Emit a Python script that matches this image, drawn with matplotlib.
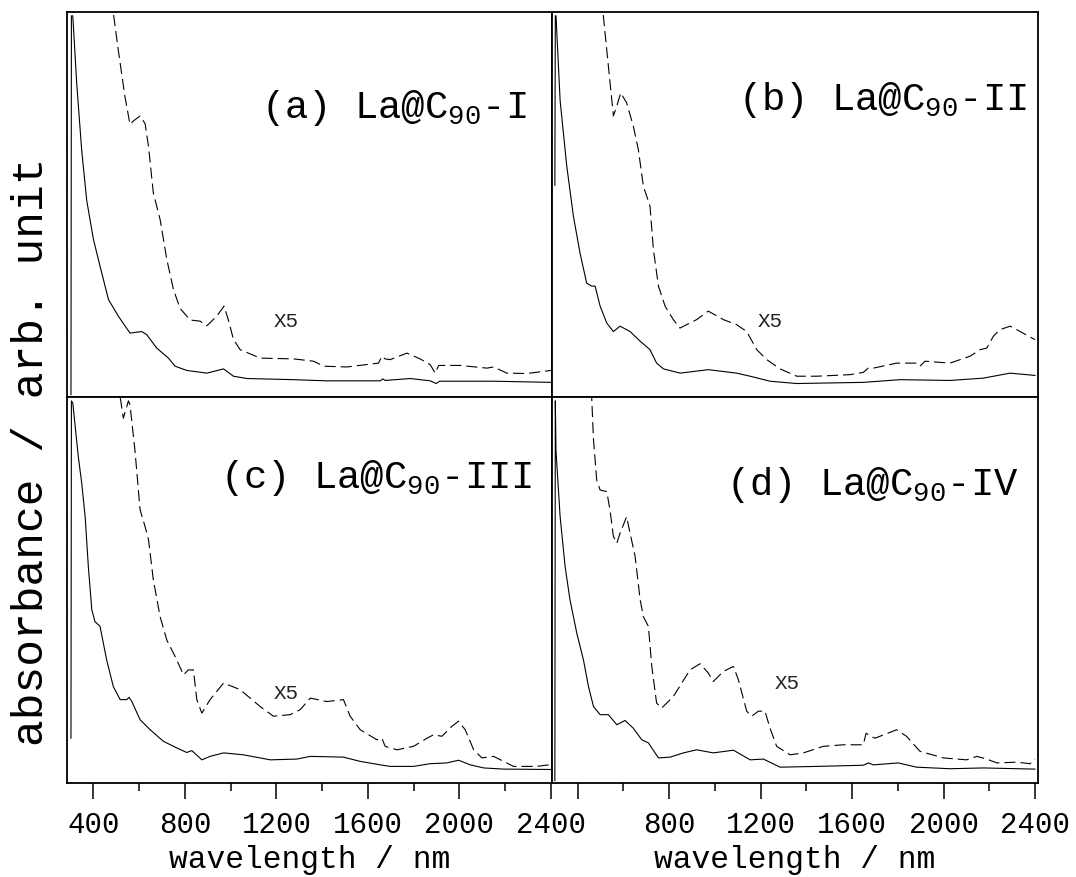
import matplotlib
matplotlib.use("Agg")
import matplotlib.pyplot as plt
from matplotlib.ticker import FixedLocator, NullFormatter, FixedFormatter

plt.rcParams['font.family'] = ['Liberation Mono', 'DejaVu Sans Mono']
plt.rcParams['mathtext.fontset'] = 'custom'
plt.rcParams['mathtext.rm'] = 'Liberation Mono'
plt.rcParams['mathtext.it'] = 'Liberation Mono'
plt.rcParams['mathtext.bf'] = 'Liberation Mono'

# ---------------- data (absorbance, arbitrary units, 0-100 per panel) ----------------
labels = [r"(a) La@C$_{90}$-I", r"(b) La@C$_{90}$-II",
          r"(c) La@C$_{90}$-III", r"(d) La@C$_{90}$-IV"]
scale_label = "X5"

wl_a_solid = [302, 304, 310, 327, 349, 371, 400, 429, 466, 509, 560, 611, 633, 677, 728, 757, 808, 896,
              969, 1012, 1071, 1275, 1420, 1654, 1665, 1675, 1785, 1872, 1898, 1913, 2149, 2400]
ab_a_solid = [0.6, 99, 99, 81.6, 64, 51, 41, 34, 25.3, 21, 16.6, 17, 16.2, 12.7, 10.1, 8.0, 6.9, 6.2,
              7.3, 5.4, 4.8, 4.5, 4.2, 4.2, 4.7, 4.3, 4.8, 4.2, 3.5, 4.1, 4.1, 3.8]
wl_a_dash = [480, 487, 509, 538, 560, 575, 604, 626, 641, 662, 692, 721, 750, 779, 823, 866, 896, 939,
             971, 990, 1012, 1041, 1129, 1275, 1362, 1406, 1508, 1646, 1661, 1675, 1697, 1770, 1828,
             1872, 1894, 1909, 2003, 2120, 2149, 2207, 2295, 2400]
ab_a_dash = [106, 99.8, 90, 78, 70.8, 71.7, 73, 71, 65, 53, 46, 35.7, 27.9, 23, 20, 19.7, 18.5, 21,
             23.6, 20, 15, 12.3, 10.1, 9.9, 9.3, 8.0, 7.8, 8.8, 10.6, 9.9, 9.7, 11.4, 9.9,
             8.4, 6.2, 8.2, 8.2, 7.5, 7.8, 6.2, 6.1, 6.9]

wl_b_solid = [300, 302, 305, 323, 352, 381, 410, 439, 461, 476, 498, 527, 556, 585, 629, 673, 716, 745,
              775, 848, 971, 1095, 1154, 1241, 1358, 1649, 1810, 2028, 2174, 2291, 2400]
ab_b_solid = [55, 99, 99, 77, 60, 47, 37.4, 29.6, 28.8, 28.8, 23.6, 19.2, 17, 18.4, 17, 14.5, 12.3, 8.8,
              7.3, 6.2, 7.1, 6.2, 5.4, 4.1, 3.5, 3.8, 4.5, 4.3, 4.9, 6.2, 5.6]
wl_b_dash = [505, 512, 534, 556, 571, 588, 614, 643, 665, 687, 716, 731, 753, 782, 818, 847, 920, 971,
             1037, 1095, 1139, 1183, 1227, 1285, 1358, 1445, 1591, 1649, 1671, 1693, 1795, 1882, 1897,
             1919, 2028, 2116, 2160, 2189, 2218, 2247, 2291, 2335, 2400]
ab_b_dash = [106, 99, 86, 73, 75.6, 79, 76.4, 70.4, 64.3, 54.8, 49.6, 38.3, 28.8, 23.6, 20.1, 17.9, 20.1, 22.3,
             20.1, 18.8, 17, 12.3, 9.7, 7.3, 5.4, 5.4, 5.8, 6.4, 7.5, 7.5, 8.8, 8.8, 8.0,
             9.3, 8.8, 10.6, 12.3, 12.7, 15.8, 17.5, 18.4, 17, 14.9]

wl_c_solid = [302, 304, 310, 334, 349, 364, 378, 393, 407, 429, 458, 487, 517, 546, 556, 568, 604, 648,
              706, 764, 808, 830, 874, 910, 969, 1056, 1173, 1289, 1348, 1493, 1566, 1654, 1697, 1799,
              1872, 1945, 1996, 2047, 2106, 2193, 2400]
ab_c_solid = [11.6, 99, 98.4, 84.6, 77.7, 69, 56, 44.9, 41.8, 40.6, 31.9, 25, 21.6, 21.6, 22.2, 21.1, 16.4, 13.8,
              10.8, 9.1, 7.9, 8.4, 6.0, 6.9, 7.8, 7.3, 6.0, 6.2, 6.9, 6.7, 5.6, 4.7, 4.3, 4.3,
              5.0, 5.2, 5.9, 4.7, 3.9, 3.6, 3.5]
wl_c_dash = [512, 517, 531, 546, 553, 560, 582, 604, 626, 641, 662, 692, 721, 757, 794, 815, 837, 852,
             874, 910, 969, 1041, 1129, 1187, 1260, 1304, 1348, 1420, 1493, 1522, 1566, 1639, 1661,
             1675, 1727, 1799, 1858, 1887, 1923, 1967, 1996, 2025, 2062, 2098, 2149, 2193, 2236,
             2338, 2389, 2400]
ab_c_dash = [104, 100, 94.5, 97.5, 99, 98, 86, 70.8, 66.4, 63, 52.6, 43, 37, 32.8, 28, 29.3, 29.3, 21.6,
             18.1, 21.6, 25.9, 24.2, 19.8, 17.3, 17.7, 19, 22, 21.1, 21.6, 17.3, 13.8, 11.2, 11.6,
             9.5, 8.6, 9.5, 11.6, 12.5, 12.1, 14.7, 16, 13.8, 8.6, 6.5, 6.9, 5.6, 4.3,
             4.3, 4.7, 5.6]

wl_d_solid = [300, 302, 305, 323, 345, 366, 396, 425, 447, 469, 498, 534, 571, 607, 643, 680, 709, 753,
              804, 862, 920, 993, 1081, 1154, 1212, 1285, 1445, 1649, 1671, 1693, 1802, 1882, 2028,
              2174, 2400]
ab_d_solid = [0.6, 99, 86, 69, 56, 47.5, 38.8, 31.9, 25, 19.8, 17.7, 17.7, 15.1, 16.2, 14.2, 11.2, 10.4, 6.5,
              6.7, 7.8, 8.6, 7.8, 8.5, 6.0, 6.2, 4.1, 4.3, 4.6, 5.2, 4.7, 5.2, 4.1, 3.7,
              3.9, 3.6]
wl_d_dash = [455, 461, 469, 483, 498, 527, 541, 556, 571, 585, 614, 629, 651, 673, 687, 709, 724, 745,
             767, 818, 891, 935, 971, 993, 1037, 1081, 1103, 1139, 1161, 1190, 1219, 1241, 1270,
             1329, 1387, 1474, 1562, 1649, 1661, 1678, 1700, 1795, 1838, 1897, 1999, 2101, 2145,
             2189, 2233, 2320, 2378, 2400]
ab_d_dash = [106, 100, 88.9, 78.5, 75.9, 75.5, 70.8, 63.9, 62.1, 64.7, 69, 64.7, 58.7, 47.5, 43.1, 40.6, 30.2, 20.7,
             19.4, 22.4, 29.3, 30.9, 28.5, 26.3, 28.9, 30.2, 26.7, 18.6, 17.3, 18.6, 18.6, 14.2, 9.5,
             7.3, 7.8, 9.5, 9.9, 9.9, 12.9, 12.3, 11.6, 13.8, 12.1, 8.2, 6.5, 6.0, 6.9,
             6.2, 5.2, 5.4, 5.0, 6.2]

major_ticks = [400, 800, 1200, 1600, 2000, 2400]
minor_ticks = [600, 1000, 1400, 1800, 2200]
left_tick_labels = ["400", "800", "1200", "1600", "2000", "2400"]
right_tick_labels = ["", "800", "1200", "1600", "2000", "2400"]

panels = [
    (wl_a_solid, ab_a_solid, wl_a_dash, ab_a_dash),
    (wl_b_solid, ab_b_solid, wl_b_dash, ab_b_dash),
    (wl_c_solid, ab_c_solid, wl_c_dash, ab_c_dash),
    (wl_d_solid, ab_d_solid, wl_d_dash, ab_d_dash),
]

# ---------------- layout ----------------
W, H = 1076, 877
fig = plt.figure(figsize=(W / 100, H / 100), dpi=100)

def box(x0, y0, x1, y1):
    return [x0 / W, (H - y1) / H, (x1 - x0) / W, (y1 - y0) / H]

rects = [box(67.3, 12, 551.7, 397), box(552, 12, 1038, 397),
         box(67.3, 397, 551.7, 783), box(552, 397, 1038, 783)]
xlims = [(286, 2403), (287.5, 2413), (286, 2403), (287.5, 2413)]
label_pos = [(0.949, 0.725), (0.977, 0.745), (0.959, 0.764), (0.959, 0.746)]
x5_pos = [(0.425, 0.197), (0.424, 0.197), (0.425, 0.233), (0.459, 0.259)]

for i, (ws, a_s, wd, a_d) in enumerate(panels):
    ax = fig.add_axes(rects[i])
    ax.plot(ws, a_s, color='black', lw=0.8, solid_joinstyle='round')
    ax.plot(wd, a_d, color='black', lw=0.8, dashes=[10, 4.5])
    ax.set_xlim(*xlims[i])
    ax.set_ylim(0, 100)
    ax.set_yticks([])
    for sp in ax.spines.values():
        sp.set_linewidth(1.3)
    ax.xaxis.set_major_locator(FixedLocator(major_ticks))
    ax.xaxis.set_minor_locator(FixedLocator(minor_ticks))
    ax.tick_params(axis='x', which='major', direction='out', length=11.5, width=1.1,
                   labelsize=21, pad=9)
    ax.tick_params(axis='x', which='minor', direction='out', length=5.5, width=1.1)
    if i < 2:
        ax.xaxis.set_major_formatter(NullFormatter())
    else:
        ax.xaxis.set_major_formatter(FixedFormatter(left_tick_labels if i == 2 else right_tick_labels))
        ax.set_xlabel("wavelength / nm", fontsize=22.5, labelpad=4)
    ax.text(label_pos[i][0], label_pos[i][1], labels[i], transform=ax.transAxes,
            ha='right', va='baseline', fontsize=28)
    ax.text(x5_pos[i][0], x5_pos[i][1], scale_label, transform=ax.transAxes,
            ha='left', va='center', fontsize=15, color='#222222')

fig.text(32 / W, (H - 452) / H, "absorbance / arb. unit", rotation=90,
         ha='center', va='center', fontsize=32)

fig.savefig("out.png", dpi=100)
